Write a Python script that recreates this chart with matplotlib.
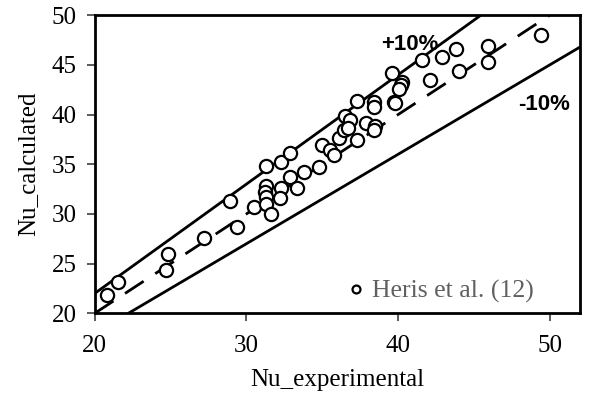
import matplotlib
matplotlib.use("Agg")
import matplotlib.pyplot as plt
import numpy as np

# experimental vs calculated Nusselt numbers
nu_exp = [20.8, 21.5, 24.8, 24.7, 27.2, 28.9, 29.4, 30.5,
          31.3, 31.3, 31.2, 31.3, 31.3, 31.6, 32.3, 32.3, 32.2,
          32.9, 32.9, 33.3, 33.8, 34.8, 35.0, 35.5, 35.8, 36.1,
          36.4, 36.5, 36.85, 36.7, 37.3, 37.3, 37.85, 38.4, 38.4,
          38.5, 38.4, 39.7, 39.6, 40.27, 40.16, 40.05, 39.8,
          41.6, 42.9, 43.8, 42.1, 44.0, 45.9, 45.9, 49.4]
nu_calc = [21.8, 23.1, 26.0, 24.4, 27.6, 31.3, 28.7, 30.7,
           34.8, 32.8, 32.2, 31.7, 31.0, 30.0, 35.2, 32.6, 31.6,
           36.1, 33.7, 32.6, 34.2, 34.7, 36.9, 36.4, 35.9, 37.6,
           38.4, 39.9, 39.4, 38.6, 41.4, 37.4, 39.1, 41.3, 40.8,
           38.8, 38.4, 41.3, 44.2, 43.3, 43.0, 42.6, 41.2,
           45.5, 45.8, 46.6, 43.5, 44.4, 46.9, 45.3, 48.0]

serif = ['Liberation Serif', 'DejaVu Serif']
sans_bold = ['Liberation Sans Narrow', 'Liberation Sans', 'DejaVu Sans']

fig = plt.figure(figsize=(5.89, 3.99), dpi=100)
ax = fig.add_axes([0.161, 0.215, 0.824, 0.747])

xl = np.array([20, 52])
ax.plot(xl, 1.1 * xl, color='black', lw=2.0)
ax.plot(xl, 0.9 * xl, color='black', lw=2.0)
ax.plot(xl, xl, color='black', lw=2.0, dashes=(8, 5))

ax.plot(nu_exp, nu_calc, 'o', ms=9.5, mfc='white', mec='black', mew=1.6,
        label='Heris et al. (12)', zorder=3)

ax.text(40.8, 47.0, '+10%', fontsize=16, fontweight='bold',
        family=sans_bold, ha='center', va='center')
ax.text(49.6, 41.0, '-10%', fontsize=16, fontweight='bold',
        family=sans_bold, ha='center', va='center')

ax.set_xlim(20, 52)
ax.set_ylim(20, 50)
ax.set_xticks([20, 30, 40, 50])
ax.set_yticks([20, 25, 30, 35, 40, 45, 50])
for lab in ax.get_xticklabels() + ax.get_yticklabels():
    lab.set_family(serif)
    lab.set_fontsize(18)
ax.tick_params(direction='out', length=6, width=1.2, color='#404040')
ax.tick_params(axis='x', pad=10)
ax.tick_params(axis='y', pad=7)

ax.set_xlabel('Nu_experimental', family=serif, fontsize=18, labelpad=8)
ax.set_ylabel('Nu_calculated', family=serif, fontsize=18, labelpad=9)

for s in ax.spines.values():
    s.set_linewidth(2.0)

leg = ax.legend(loc='lower right', frameon=False, handletextpad=0.1,
                markerscale=0.6, prop={'family': serif, 'size': 18.5},
                borderaxespad=0.0, handlelength=1.0,
                bbox_to_anchor=(0.925, 0.0))
for t in leg.get_texts():
    t.set_color('#606060')

fig.savefig('out.png', dpi=100)
